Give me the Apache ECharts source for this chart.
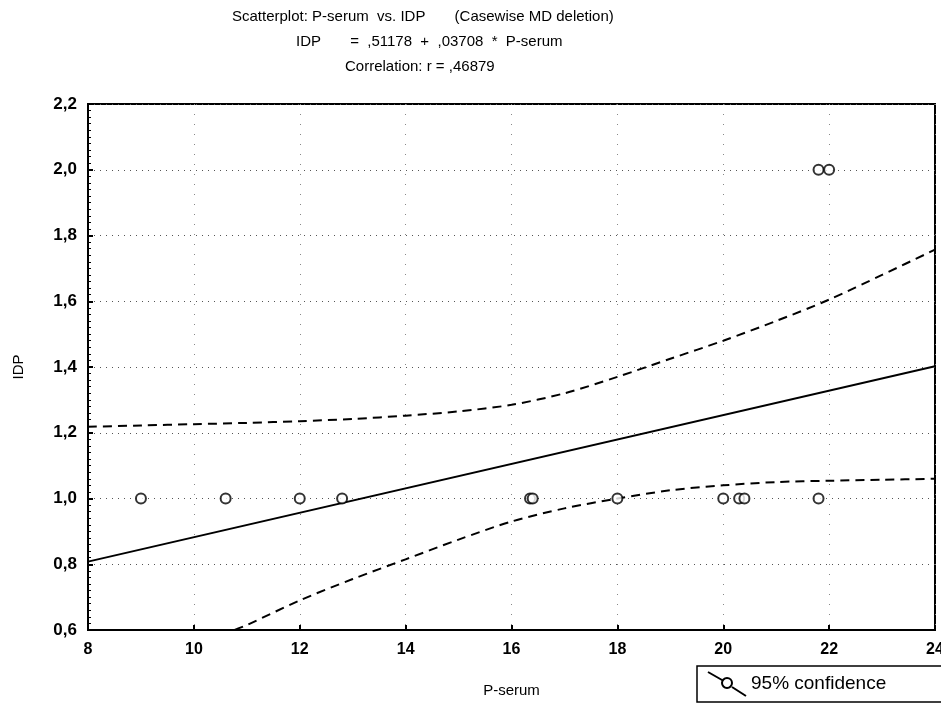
<!DOCTYPE html>
<html>
<head>
<meta charset="utf-8">
<script src="https://cdn.jsdelivr.net/npm/echarts@6/dist/echarts.min.js"></script>
<style>
  html, body { margin: 0; padding: 0; background: #fff; overflow: hidden; }
  #chart { width: 941px; height: 704px; }
</style>
</head>
<body>
<div id="chart"></div>
<script>
// Observations: P-serum (x) and IDP (y)
const pSerum = [9.0, 10.6, 12.0, 12.8, 16.35, 16.4, 18.0, 20.0, 20.3, 20.4, 21.8, 21.8, 22.0];
const idp    = [1.0, 1.0, 1.0, 1.0, 1.0, 1.0, 1.0, 1.0, 1.0, 1.0, 1.0, 2.0, 2.0];

// Fitted line IDP = ,51178 + ,03708 * P-serum, at the axis ends
const fitX = [8, 24];
const fitY = [0.808, 1.402];

// 95% confidence band, upper edge
const upperX = [8, 9, 10, 11, 12, 13, 14, 15, 16, 17, 18, 19, 20, 21, 22, 23, 24];
const upperY = [1.218, 1.222, 1.226, 1.23, 1.235, 1.242, 1.252, 1.265, 1.285, 1.32, 1.37, 1.425, 1.48, 1.54, 1.605, 1.68, 1.757];

// 95% confidence band, lower edge
const lowerX = [10.77, 11, 12, 13, 14, 15, 16, 17, 18, 19, 20, 21, 22, 23, 24];
const lowerY = [0.6, 0.615, 0.69, 0.755, 0.815, 0.875, 0.93, 0.97, 1.0, 1.025, 1.04, 1.05, 1.054, 1.057, 1.06];

// Axis ticks
const xTicks = { min: 8, max: 24, step: 2 };
const yTicks = { min: 0.6, max: 2.2, step: 0.2 };

const zip = (xs, ys) => xs.map((x, i) => [x, ys[i]]);
const FONT = 'Liberation Sans, Arial, sans-serif';
const titleStyle = { fontFamily: FONT, fontSize: 15, fontWeight: 'normal', color: '#000' };

const chart = echarts.init(document.getElementById('chart'), null, {
  renderer: 'canvas', width: 941, height: 704
});

chart.setOption({
  backgroundColor: '#fff',
  animation: false,
  title: [
    { text: 'Scatterplot: P-serum  vs. IDP       (Casewise MD deletion)', left: 227, top: 4, textStyle: titleStyle },
    { text: 'IDP       =  ,51178  +  ,03708  *  P-serum', left: 291, top: 29, textStyle: titleStyle },
    { text: 'Correlation: r = ,46879', left: 340, top: 54, textStyle: titleStyle }
  ],
  grid: {
    left: 88, right: 6, top: 104, bottom: 74,
    outerBoundsMode: 'none', containLabel: false,
    show: true, borderColor: '#000', borderWidth: 2, backgroundColor: '#fff'
  },
  legend: {
    data: ['95% confidence'],
    left: 697, top: 666,
    orient: 'horizontal',
    borderColor: '#000', borderWidth: 1.5,
    padding: [5, 80, 5, 10],
    itemWidth: 38, itemHeight: 24, itemGap: 4,
    icon: 'path://M0,0 L14,8 M24,15 L38,24 M19,6 A5,5 0 1,0 19.01,6 Z',
    itemStyle: { color: 'transparent', borderColor: '#000', borderWidth: 2 },
    textStyle: { fontFamily: FONT, fontSize: 19, color: '#000' }
  },
  xAxis: {
    type: 'value',
    min: xTicks.min, max: xTicks.max, interval: xTicks.step,
    name: 'P-serum', nameLocation: 'middle', nameGap: 53,
    nameTextStyle: { fontFamily: FONT, fontSize: 15, color: '#000' },
    axisLine: { show: true, onZero: false, lineStyle: { color: '#000', width: 2 } },
    axisTick: { show: true, inside: true, length: 5, lineStyle: { color: '#000', width: 2 } },
    axisLabel: { fontFamily: FONT, fontSize: 16, fontWeight: 'bold', color: '#000', margin: 12 },
    splitLine: { show: true, lineStyle: { color: '#888', width: 1, type: [1, 9] } }
  },
  yAxis: {
    type: 'value',
    min: yTicks.min, max: yTicks.max, interval: yTicks.step,
    name: 'IDP', nameLocation: 'middle', nameGap: 62, nameRotate: 90,
    nameTextStyle: { fontFamily: FONT, fontSize: 15, color: '#000' },
    axisLine: { show: true, onZero: false, lineStyle: { color: '#000', width: 2 } },
    axisTick: { show: true, inside: true, length: 5, lineStyle: { color: '#000', width: 2 } },
    minorTick: { show: true, splitNumber: 10, length: 3, lineStyle: { color: '#000', width: 1 } },
    axisLabel: {
      fontFamily: FONT, fontSize: 17, fontWeight: 'bold', color: '#000', margin: 11,
      formatter: v => v.toFixed(1).replace('.', ',')
    },
    splitLine: { show: true, lineStyle: { color: '#555', width: 1, type: [1, 5] } }
  },
  series: [
    {
      name: 'IDP',
      type: 'scatter',
      data: zip(pSerum, idp),
      symbol: 'circle', symbolSize: 10,
      itemStyle: { color: '#fff', borderColor: '#000', borderWidth: 2 },
      z: 5
    },
    {
      name: 'Fit',
      type: 'line',
      data: zip(fitX, fitY),
      showSymbol: false,
      lineStyle: { color: '#000', width: 2 },
      z: 4
    },
    {
      name: '95% confidence',
      type: 'line',
      data: zip(upperX, upperY),
      smooth: 0.3,
      showSymbol: false,
      itemStyle: { color: '#000' },
      lineStyle: { color: '#000', width: 2, type: [9, 6] },
      z: 4
    },
    {
      name: '95% confidence',
      type: 'line',
      data: zip(lowerX, lowerY),
      smooth: 0.3,
      showSymbol: false,
      itemStyle: { color: '#000' },
      lineStyle: { color: '#000', width: 2, type: [9, 6] },
      z: 4
    }
  ]
});
</script>
</body>
</html>
